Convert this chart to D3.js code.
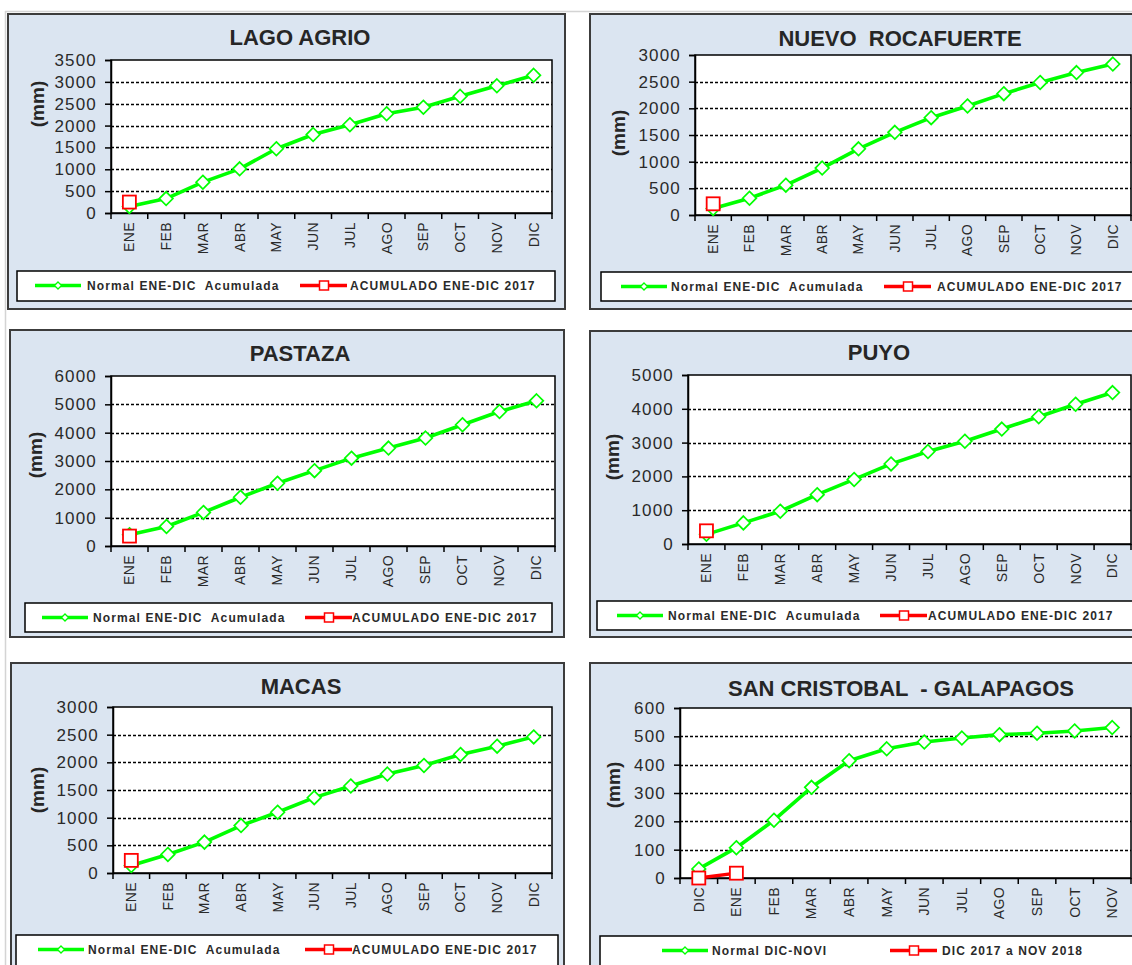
<!DOCTYPE html>
<html>
<head>
<meta charset="utf-8">
<script src="https://cdn.jsdelivr.net/npm/d3@7"></script>
<style>
  html, body { margin: 0; padding: 0; background: #ffffff; }
  svg { display: block; font-family: "Liberation Sans", Arial, sans-serif; }
</style>
</head>
<body>
<svg id="chart" width="1132" height="965"></svg>
<script>
// ---------------- DATA ----------------
const monthsEneDic = ["ENE","FEB","MAR","ABR","MAY","JUN","JUL","AGO","SEP","OCT","NOV","DIC"];
const monthsDicNov = ["DIC","ENE","FEB","MAR","ABR","MAY","JUN","JUL","AGO","SEP","OCT","NOV"];

const lagoNormal  = [150, 330, 705, 1010, 1470, 1795, 2020, 2270, 2420, 2670, 2910, 3150];
const lagoAcum    = [250];
const lagoTicks   = [0, 500, 1000, 1500, 2000, 2500, 3000, 3500];

const nuevoNormal = [120, 315, 560, 880, 1240, 1550, 1825, 2045, 2275, 2485, 2670, 2830];
const nuevoAcum   = [210];
const nuevoTicks  = [0, 500, 1000, 1500, 2000, 2500, 3000];

const pastazaNormal = [400, 690, 1185, 1720, 2215, 2660, 3100, 3455, 3810, 4280, 4745, 5125];
const pastazaAcum   = [350];
const pastazaTicks  = [0, 1000, 2000, 3000, 4000, 5000, 6000];

const puyoNormal = [285, 625, 970, 1460, 1910, 2370, 2735, 3040, 3400, 3765, 4135, 4480];
const puyoAcum   = [390];
const puyoTicks  = [0, 1000, 2000, 3000, 4000, 5000];

const macasNormal = [135, 335, 558, 858, 1098, 1362, 1572, 1788, 1944, 2142, 2292, 2460];
const macasAcum   = [228];
const macasTicks  = [0, 500, 1000, 1500, 2000, 2500, 3000];

const scNormal = [32, 107, 204, 320, 414, 456, 480, 494, 506, 511, 519, 531];
const scAcum   = [0, 17];
const scTicks  = [0, 100, 200, 300, 400, 500, 600];

const legendEneDic = ["Normal ENE-DIC  Acumulada", "ACUMULADO ENE-DIC 2017"];
const legendSC     = ["Normal DIC-NOVI", "DIC 2017 a NOV 2018"];

// ---------------- LAYOUT ----------------
const panels = [
  { title: "LAGO AGRIO", cats: monthsEneDic, normal: lagoNormal, acum: lagoAcum, ticks: lagoTicks, legend: legendEneDic,
    frame: [8, 14, 557, 295], plot: [111, 60, 552, 213], leg: [17, 271, 538, 30], legX: [18, 70, 283, 333],
    titleX: 300, titleY: 45, mm: [37, 104] },
  { title: "NUEVO  ROCAFUERTE", cats: monthsEneDic, normal: nuevoNormal, acum: nuevoAcum, ticks: nuevoTicks, legend: legendEneDic,
    frame: [590, 14, 560, 295], plot: [695, 55, 1131, 215], leg: [601, 272, 560, 29], legX: [20, 70, 283, 336],
    titleX: 900, titleY: 46, mm: [618, 133] },
  { title: "PASTAZA", cats: monthsEneDic, normal: pastazaNormal, acum: pastazaAcum, ticks: pastazaTicks, legend: legendEneDic,
    frame: [10, 330, 554, 307], plot: [111, 376, 555, 546], leg: [25, 603, 527, 29], legX: [17, 68, 280, 327],
    titleX: 300, titleY: 361, mm: [35, 455] },
  { title: "PUYO", cats: monthsEneDic, normal: puyoNormal, acum: puyoAcum, ticks: puyoTicks, legend: legendEneDic,
    frame: [590, 331, 560, 306], plot: [688, 375, 1131, 544], leg: [597, 601, 560, 29], legX: [20, 71, 283, 331],
    titleX: 879, titleY: 360, mm: [612, 457] },
  { title: "MACAS", cats: monthsEneDic, normal: macasNormal, acum: macasAcum, ticks: macasTicks, legend: legendEneDic,
    frame: [11, 663, 553, 320], plot: [113, 707, 552, 873], leg: [16, 935, 542, 40], legX: [22, 72, 289, 336],
    titleX: 301, titleY: 694, mm: [37, 790] },
  { title: "SAN CRISTOBAL  - GALAPAGOS", cats: monthsDicNov, normal: scNormal, acum: scAcum, ticks: scTicks, legend: legendSC,
    frame: [590, 663, 560, 320], plot: [680, 708, 1131, 878], leg: [600, 936, 560, 40], legX: [62, 112, 290, 342],
    titleX: 901, titleY: 696, mm: [613, 785] }
];

const svg = d3.select("#chart");
svg.append("rect").attr("width", 1132).attr("height", 965).attr("fill", "#ffffff");
// page edges
svg.append("line").attr("x1", 5.5).attr("x2", 5.5).attr("y1", 11).attr("y2", 965).attr("stroke", "#d4d4d4").attr("stroke-width", 1.5);
svg.append("line").attr("x1", 5).attr("x2", 1132).attr("y1", 11.5).attr("y2", 11.5).attr("stroke", "#d4d4d4").attr("stroke-width", 1.5);

const GREEN = "#00ff00", RED = "#ff0000";
const diamond = r => `M0,${-r}L${r},0L0,${r}L${-r},0Z`;

panels.forEach(p => {
  const g = svg.append("g");
  const [fx, fy, fw, fh] = p.frame;
  g.append("rect").attr("x", fx).attr("y", fy).attr("width", fw).attr("height", fh)
    .attr("fill", "#dbe5f1").attr("stroke", "#3c3c3c").attr("stroke-width", 2);

  const [pl, pt, pr, pb] = p.plot;
  const x = d3.scaleBand().domain(p.cats).range([pl, pr]).padding(0);
  const y = d3.scaleLinear().domain([0, d3.max(p.ticks)]).range([pb, pt]);
  const cx = c => x(c) + x.bandwidth() / 2;

  // title
  g.append("text").attr("x", p.titleX).attr("y", p.titleY).attr("text-anchor", "middle")
    .attr("font-size", 22).attr("font-weight", "bold").attr("fill", "#262626").attr("xml:space", "preserve")
    .text(p.title);

  // plot background
  g.append("rect").attr("x", pl).attr("y", pt).attr("width", pr - pl).attr("height", pb - pt).attr("fill", "#ffffff");

  // gridlines
  g.selectAll(".grid").data(p.ticks.slice(1, -1)).enter().append("line")
    .attr("x1", pl).attr("x2", pr).attr("y1", d => Math.round(y(d)) + 0.5).attr("y2", d => Math.round(y(d)) + 0.5)
    .attr("stroke", "#000").attr("stroke-width", 1.3).attr("stroke-dasharray", "3,2");

  // plot border
  g.append("rect").attr("x", pl).attr("y", pt).attr("width", pr - pl).attr("height", pb - pt)
    .attr("fill", "none").attr("stroke", "#000").attr("stroke-width", 1.5);

  // y axis
  const ya = g.append("g").attr("transform", `translate(${pl},0)`)
    .call(d3.axisLeft(y).tickValues(p.ticks).tickSize(6).tickPadding(8).tickFormat(d3.format("d")));
  ya.select(".domain").attr("stroke", "#000").attr("stroke-width", 1.5);
  ya.selectAll(".tick line").attr("stroke", "#000").attr("stroke-width", 1.5);
  ya.selectAll(".tick text").attr("font-size", 17).attr("fill", "#2a2a2a").attr("letter-spacing", 1.2)
    .attr("font-family", "'Liberation Sans', Arial, sans-serif");

  // x axis labels
  const xa = g.append("g").attr("transform", `translate(0,${pb})`)
    .call(d3.axisBottom(x).tickSize(0).tickPadding(0));
  xa.select(".domain").attr("stroke", "#000").attr("stroke-width", 1.5);
  xa.selectAll(".tick text")
    .attr("font-size", 14).attr("fill", "#2a2a2a").attr("letter-spacing", 0.4)
    .attr("font-family", "'Liberation Sans', Arial, sans-serif")
    .attr("text-anchor", "end").attr("dy", "0.35em").attr("dx", 0)
    .attr("transform", "translate(0,9) rotate(-90)").attr("y", 0).attr("x", 0);
  // x ticks at category boundaries
  const bounds = p.cats.map(c => x(c)).concat([pr]);
  g.selectAll(".xt").data(bounds).enter().append("line")
    .attr("x1", d => d).attr("x2", d => d).attr("y1", pb).attr("y2", pb + 6)
    .attr("stroke", "#000").attr("stroke-width", 1.5);

  // y label
  g.append("text").attr("transform", `translate(${p.mm[0]},${p.mm[1]}) rotate(-90)`)
    .attr("text-anchor", "middle").attr("dy", "0.35em").attr("font-size", 19).attr("font-weight", "bold")
    .attr("fill", "#262626").text("(mm)");

  // green series
  const normalData = p.normal.map((v, i) => ({ c: p.cats[i], v }));
  const line = d3.line().x(d => cx(d.c)).y(d => y(d.v));
  g.append("path").datum(normalData).attr("d", line).attr("fill", "none")
    .attr("stroke", GREEN).attr("stroke-width", 3.6).attr("stroke-linejoin", "round");
  g.selectAll(".gm").data(normalData).enter().append("path")
    .attr("d", diamond(6.8)).attr("transform", d => `translate(${cx(d.c)},${y(d.v)})`)
    .attr("fill", "#ffffff").attr("stroke", GREEN).attr("stroke-width", 1.7);

  // red series
  const acumData = p.acum.map((v, i) => ({ c: p.cats[i], v }));
  if (acumData.length > 1) {
    g.append("path").datum(acumData).attr("d", line).attr("fill", "none")
      .attr("stroke", RED).attr("stroke-width", 3.4);
  }
  g.selectAll(".rm").data(acumData).enter().append("rect")
    .attr("x", d => cx(d.c) - 6.5).attr("y", d => y(d.v) - 6.5).attr("width", 13).attr("height", 13)
    .attr("fill", "#ffffff").attr("stroke", RED).attr("stroke-width", 1.8);

  // legend
  const [lx, ly, lw, lh] = p.leg;
  g.append("rect").attr("x", lx).attr("y", ly).attr("width", lw).attr("height", lh)
    .attr("fill", "#ffffff").attr("stroke", "#000").attr("stroke-width", 1.5);
  const cy = ly + 14.5;
  const [g0, gt, r0, rt] = p.legX;
  g.append("line").attr("x1", lx + g0).attr("x2", lx + g0 + 46).attr("y1", cy).attr("y2", cy)
    .attr("stroke", GREEN).attr("stroke-width", 3.4);
  g.append("path").attr("d", diamond(3.5)).attr("transform", `translate(${lx + g0 + 23},${cy})`)
    .attr("fill", "#fff").attr("stroke", GREEN).attr("stroke-width", 1.3);
  g.append("text").attr("x", lx + gt).attr("y", cy).attr("dy", "0.36em")
    .attr("font-size", 12).attr("font-weight", "bold").attr("letter-spacing", 1.1).attr("fill", "#2a2a2a")
    .attr("xml:space", "preserve").text(p.legend[0]);
  g.append("line").attr("x1", lx + r0).attr("x2", lx + r0 + 47).attr("y1", cy).attr("y2", cy)
    .attr("stroke", RED).attr("stroke-width", 3.4);
  g.append("rect").attr("x", lx + r0 + 19.5).attr("y", cy - 4.5).attr("width", 9).attr("height", 9)
    .attr("fill", "#fff").attr("stroke", RED).attr("stroke-width", 1.5);
  g.append("text").attr("x", lx + rt).attr("y", cy).attr("dy", "0.36em")
    .attr("font-size", 12).attr("font-weight", "bold").attr("letter-spacing", 1.1).attr("fill", "#2a2a2a")
    .attr("xml:space", "preserve").text(p.legend[1]);
});
</script>
</body>
</html>
